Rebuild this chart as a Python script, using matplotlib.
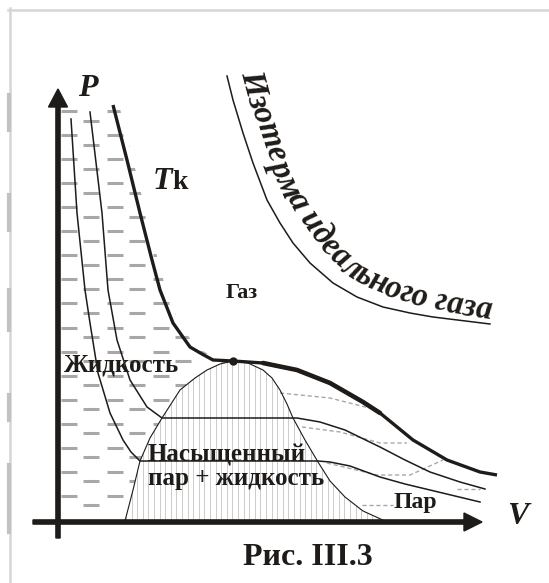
import numpy as np
import matplotlib
matplotlib.use('Agg')
import matplotlib.pyplot as plt
from matplotlib.path import Path
from matplotlib.patches import PathPatch
from matplotlib.collections import LineCollection
from matplotlib.font_manager import FontProperties, findfont, get_font
from matplotlib.lines import Line2D

# isotherms (V, P in arbitrary units)
t1_v = [1.3, 1.9, 2.7, 3.2, 4.0, 5.2, 6.5, 7.3, 8.2, 26.0, 27.2, 29.2, 32.2, 34.7, 37.2, 39.7, 42.2]
t1_p = [40.3, 30.9, 23.2, 19.9, 14.9, 10.9, 8.2, 7.0, 6.1, 6.1, 6.0, 5.6, 4.5, 3.8, 3.2, 2.6, 2.0]

t2_v = [3.2, 4.4, 5.0, 5.9, 7.2, 8.9, 10.4, 23.9, 26.2, 28.7, 32.2, 34.7, 37.2, 40.2, 42.7]
t2_p = [41.0, 30.9, 23.2, 18.2, 14.2, 11.5, 10.4, 10.4, 10.0, 9.2, 7.5, 6.2, 5.0, 4.0, 3.3]

# critical isotherm Tk, critical point at index 9
tk_v = [5.5, 6.9, 8.2, 9.4, 10.2, 11.5, 13.2, 14.4, 15.5, 17.5, 20.5, 23.9, 27.2, 30.5, 32.2, 35.5,
        38.9, 42.2, 43.9]
tk_p = [41.7, 36.2, 30.9, 26.2, 23.2, 19.9, 17.5, 16.8, 16.2, 16.1, 15.9, 15.2, 13.9, 12.0, 10.9, 8.2,
        6.2, 5.0, 4.7]
crit = 9

# boundary of the two-phase region (top at index 9)
dome_v = [6.7, 7.5, 8.2, 9.2, 10.4, 12.2, 13.7, 14.9, 16.2, 17.5, 19.0, 20.5, 21.4, 22.2, 22.9, 23.5,
          24.7, 26.0, 27.2, 28.7, 30.5, 32.7]
dome_p = [0.1, 3.2, 6.1, 8.4, 10.4, 13.2, 14.4, 15.2, 15.8, 16.1, 15.9, 15.2, 14.4, 13.2, 11.8, 10.4,
          8.2, 6.0, 4.1, 2.5, 1.1, 0.1]
dome_top = 9

# ideal gas isotherm
ig_v = [16.9, 17.5, 18.5, 19.5, 20.9, 22.2, 23.5, 25.2, 27.5, 29.9, 32.5, 35.2, 37.5, 43.2]
ig_p = [44.6, 42.2, 38.9, 35.9, 32.2, 29.9, 27.9, 25.9, 23.9, 22.5, 21.5, 20.9, 20.5, 19.8]

# faint grey metastable branches
meta_lines = [
    ([22.2, 27.2, 31.9], [12.9, 12.4, 11.2]),
    ([24.4, 28.2, 32.2, 34.9], [9.5, 9.0, 7.9, 7.9]),
    ([26.9, 31.9, 35.2, 38.5], [5.9, 4.7, 4.7, 6.2]),
    ([39.9, 42.2], [3.3, 3.3]),
    ([30.4, 33.5], [1.7, 1.7]),
]

ink = '#1e1b18'
serif = 'Liberation Serif'

fig = plt.figure(figsize=(5.49, 5.83), dpi=100)
ax = fig.add_axes([0, 0, 1, 1])
ax.set_xlim(-5.8, 49.1)
ax.set_ylim(-6.1, 52.2)
ax.axis('off')

# scan frame
fig.add_artist(Line2D([8 / 549, 1], [1 - 10 / 583] * 2, transform=fig.transFigure, color='#d6d6d6', lw=1.8))
fig.add_artist(Line2D([10 / 549] * 2, [1 - 8 / 583, 0], transform=fig.transFigure, color='#d6d6d6', lw=1.8))
for y0, y1 in [(95, 130), (195, 230), (290, 330), (395, 420), (465, 532)]:
    fig.add_artist(Line2D([9 / 549] * 2, [1 - y0 / 583, 1 - y1 / 583], transform=fig.transFigure,
                          color='#c2c2c2', lw=3))

# liquid region: short grey dashes
liq = [(0.25, 0.2), (0.25, 43.0), (tk_v[0] + 1.2, 43.0)]
liq += [(v + 0.6, p) for v, p in zip(tk_v[:crit], tk_p[:crit])]
liq += [(dome_v[i], dome_p[i]) for i in range(dome_top, -1, -1)]
liq_patch = PathPatch(Path(liq + [liq[0]], closed=True), transform=ax.transData, fc='none', ec='none')
segs = []
for k in range(17):
    pa = 41.1 - 2.406 * k
    for c in range(6):
        segs.append([(0.3 + 4.6 * c, pa), (1.9 + 4.6 * c, pa)])
        segs.append([(2.5 + 4.6 * c, pa - 0.95), (4.1 + 4.6 * c, pa - 0.95)])
dashes = LineCollection(segs, colors='#a8a8a8', linewidths=2.2, capstyle='butt', zorder=1)
ax.add_collection(dashes)
dashes.set_clip_path(liq_patch)

# two-phase region: thin vertical hatching
dome_patch = PathPatch(Path(list(zip(dome_v, dome_p)) + [(dome_v[0], dome_p[0])], closed=True),
                       transform=ax.transData, fc='none', ec='none')
hatch = LineCollection([[(v, 0), (v, 17)] for v in np.arange(6.8, 33, 0.56)],
                       colors='#c4c4c4', linewidths=0.6, zorder=1)
ax.add_collection(hatch)
hatch.set_clip_path(dome_patch)

for xs, ys in meta_lines:
    ax.plot(xs, ys, color='#a8a8a8', lw=1.0, ls=(0, (3, 2)), zorder=2)

ax.plot(dome_v, dome_p, color=ink, lw=0.8, zorder=3)
ax.plot(t1_v, t1_p, color=ink, lw=1.1, zorder=3)
ax.plot(t2_v, t2_p, color=ink, lw=1.1, zorder=3)
ax.plot(tk_v, tk_p, color=ink, lw=2.4, zorder=4, solid_capstyle='butt', solid_joinstyle='round')
# the scanned line gets heavier along the flat part
ax.plot(tk_v[crit + 1:crit + 6], tk_p[crit + 1:crit + 6], color=ink, lw=3.3, zorder=4,
        solid_capstyle='round', solid_joinstyle='round')
ax.plot(tk_v[crit], tk_p[crit], 'o', color=ink, ms=5, zorder=5)
ax.plot(ig_v, ig_p, color=ink, lw=1.1, zorder=3)

# axes with arrows
ax.arrow(0, -1.6, 0, 44.9, width=0.42, head_width=1.9, head_length=1.8,
         length_includes_head=True, color=ink, zorder=6)
ax.arrow(-2.5, 0, 44.9, 0, width=0.42, head_width=1.8, head_length=1.8,
         length_includes_head=True, color=ink, zorder=6)

bi = dict(family=serif, weight='bold', style='italic', color=ink)
bd = dict(family=serif, weight='bold', color=ink)
ax.text(2.95, 43.35, 'P', fontsize=23, ha='center', va='center', **bi)
ax.text(46.0, 0.5, 'V', fontsize=23, ha='center', va='center', **bi)
ax.text(9.5, 33.3, 'T', fontsize=23, ha='left', va='baseline', **bi)
ax.text(11.4, 33.3, 'k', fontsize=20, ha='left', va='baseline', **bd)
ax.text(18.4, 22.9, 'Газ', fontsize=16, ha='center', va='center', **bd)
ax.text(6.4, 15.7, 'Жидкость', fontsize=18, ha='center', va='center', **bd)
ax.text(9.0, 3.7, 'Насыщенный\nпар + жидкость', fontsize=18, ha='left', va='baseline',
        linespacing=1.05, **bd)
ax.text(33.5, 1.4, 'Пар', fontsize=17, ha='left', va='baseline', **bd)
ax.text(24.95, -4.3, 'Рис. III.3', fontsize=23, ha='center', va='baseline', **bd)


def text_along(s, xs, ys, dist, **kw):
    xs, ys = np.asarray(xs, float), np.asarray(ys, float)
    dx, dy = np.gradient(xs), np.gradient(ys)
    n = np.hypot(dx, dy)
    nx, ny = -dy / n, dx / n
    arc = np.concatenate([[0], np.cumsum(np.hypot(np.diff(xs), np.diff(ys)))])
    frac = arc / arc[-1]
    d = np.interp(frac, [0, 0.45, 1], dist)
    ox, oy = xs + d * nx, ys + d * ny
    oarc = np.concatenate([[0], np.cumsum(np.hypot(np.diff(ox), np.diff(oy)))])
    ang = np.degrees(np.unwrap(np.arctan2(dy, dx)))
    fp = FontProperties(family=serif, weight='bold', style='italic')
    font = get_font(findfont(fp))
    font.set_size(100, 72)
    adv = np.array([font.load_char(ord(c)).linearHoriAdvance / 65536 for c in s])
    size = oarc[-1] * 10 * 72 / adv.sum()
    scale = oarc[-1] / adv.sum()
    centers = (np.cumsum(adv) - adv / 2) * scale
    for c, sc in zip(s, centers):
        if c == ' ':
            continue
        x = np.interp(sc, oarc, ox)
        y = np.interp(sc, oarc, oy)
        a = np.interp(sc, oarc, ang)
        ax.text(x, y, c, rotation=a, rotation_mode='anchor', ha='center', va='baseline',
                fontsize=size, zorder=7, **kw)


text_along('Изотерма идеального газа', ig_v, ig_p, [1.4, 1.9, 0.4], **bi)

fig.savefig('out.png', dpi=100)
